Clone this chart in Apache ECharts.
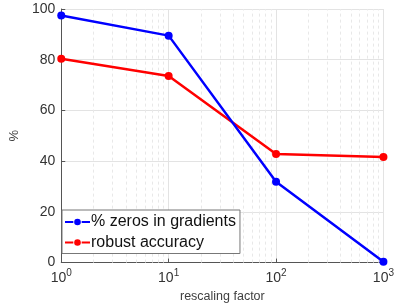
<!DOCTYPE html>
<html><head><meta charset="utf-8">
<script src="https://cdn.jsdelivr.net/npm/echarts@6/dist/echarts.min.js"></script>
<style>html,body{margin:0;padding:0;background:#fff}#c{width:397px;height:308px}</style>
</head><body><div id="c"></div>
<script>
const xValues = [1, 10, 100, 1000];
const zerosPct = [97.4, 89.5, 31.9, 0.3];
const robustAcc = [80.4, 73.6, 42.8, 41.6];
const seriesNames = ['% zeros in gradients', 'robust accuracy'];
const minorX = [2,3,4,5,6,7,8,9,20,30,40,50,60,70,80,90,200,300,400,500,600,700,800,900];

const chart = echarts.init(document.getElementById('c'), null, {renderer: 'canvas'});
const font = '"Liberation Sans", Arial, sans-serif';
const legendIcon = 'path://M0,4L10,4L10,6.5L0,6.5Z M20,4L30,4L30,6.5L20,6.5Z M11,5.25A4,4 0 0,1 19,5.25A4,4 0 0,1 11,5.25Z';
chart.setOption({
  animation: false,
  grid: {left: 55.5, right: 11, top: 9, bottom: 44.5, containLabel: false},
  xAxis: {
    type: 'log', min: 1, max: 1000, logBase: 10,
    name: 'rescaling factor', nameLocation: 'middle', nameGap: 27,
    nameTextStyle: {fontFamily: font, fontSize: 12.5, color: '#404040'},
    axisLine: {lineStyle: {color: '#555', width: 1}},
    axisTick: {show: true, length: -4, lineStyle: {color: '#555'}},
    splitLine: {show: true, lineStyle: {color: '#e3e3e3', width: 1}},
    axisLabel: {
      margin: 6,
      formatter: function (v) { return '{b|10}{s|' + Math.round(Math.log10(v)) + '}'; },
      rich: {
        b: {fontFamily: font, fontSize: 14, color: '#333'},
        s: {fontFamily: font, fontSize: 10, color: '#333', padding: [0, 0, 9, 0]}
      }
    }
  },
  yAxis: {
    type: 'value', min: 0, max: 100, interval: 20,
    name: '%', nameLocation: 'middle', nameGap: 38, nameRotate: 90,
    nameTextStyle: {fontFamily: font, fontSize: 13, color: '#404040'},
    axisLine: {show: true, lineStyle: {color: '#555', width: 1}},
    axisTick: {show: true, length: -4, lineStyle: {color: '#555'}},
    splitLine: {show: true, lineStyle: {color: '#e3e3e3', width: 1}},
    axisLabel: {fontFamily: font, fontSize: 14, color: '#333', margin: 6}
  },
  legend: {
    left: 62, top: 210, orient: 'vertical', itemGap: 2.5,
    itemWidth: 25, itemHeight: 8,
    padding: [3, 4, 2, 3],
    backgroundColor: '#fff', borderColor: '#777', borderWidth: 1, borderRadius: 0,
    textStyle: {fontFamily: font, fontSize: 16, lineHeight: 18, color: '#111', padding: [0, 0, 0, -4]},
    data: seriesNames.map(n => ({name: n, icon: legendIcon}))
  },
  series: [
    {
      name: 'minor', type: 'line', data: [], silent: true, z: 1,
      markLine: {
        silent: true, symbol: 'none', label: {show: false}, z: 1,
        lineStyle: {color: '#e8e8e8', type: [3, 3], width: 1},
        data: minorX.map(v => ({xAxis: v}))
      }
    },
    {
      name: seriesNames[0], type: 'line', z: 5,
      data: xValues.map((x, i) => [x, zerosPct[i]]),
      color: '#0000ff', lineStyle: {width: 2.5, color: '#0000ff'},
      symbol: 'circle', symbolSize: 8, itemStyle: {color: '#0000ff'}
    },
    {
      name: seriesNames[1], type: 'line', z: 4,
      data: xValues.map((x, i) => [x, robustAcc[i]]),
      color: '#ff0000', lineStyle: {width: 2.5, color: '#ff0000'},
      symbol: 'circle', symbolSize: 8, itemStyle: {color: '#ff0000'}
    }
  ]
});
</script></body></html>
